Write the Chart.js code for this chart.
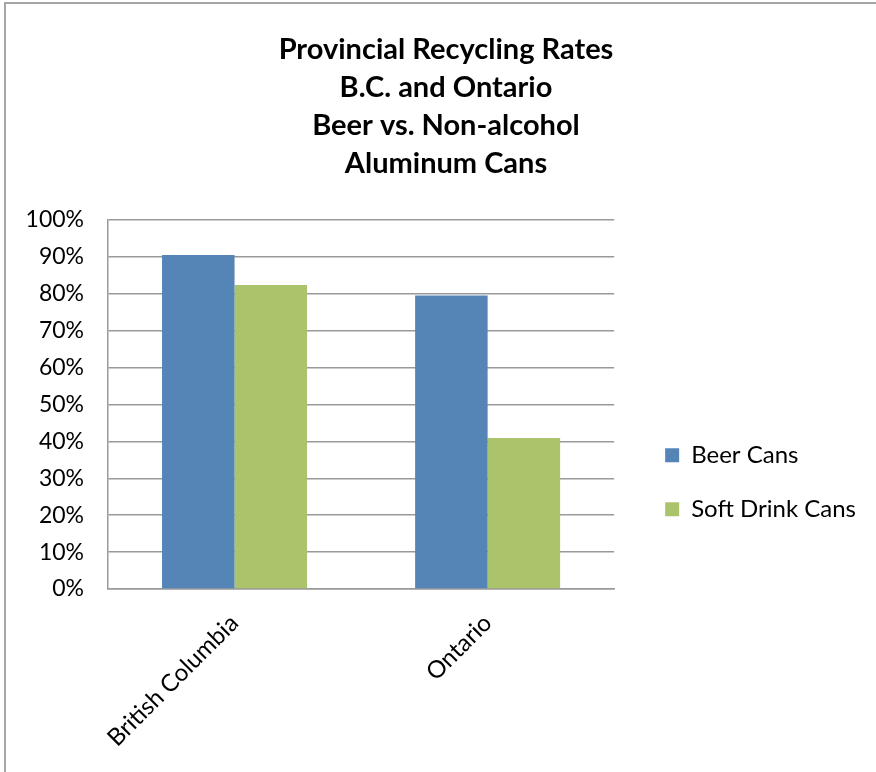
<!DOCTYPE html>
<html>
<head>
<meta charset="utf-8">
<script src="https://cdn.jsdelivr.net/npm/chart.js@4"></script>
<style>
  body { margin: 0; background: #fff; }
  #frame { position: absolute; left: 4px; top: 2px; width: 880px; height: 780px;
           border-left: 2px solid #a6a6a6; border-top: 2px solid #a6a6a6; }
  #myChart { position: absolute; left: 0; top: 0; }
</style>
</head>
<body>
<div id="frame"></div>
<canvas id="myChart" width="876" height="772"></canvas>
<script>
// chart data
const categories = ['British Columbia', 'Ontario'];
const beerCans = [90.5, 79.5];
const softDrinkCans = [82.4, 40.9];
const titleLines = ['Provincial Recycling Rates', 'B.C. and Ontario', 'Beer vs. Non-alcohol', 'Aluminum Cans'];
const yMin = 0, yMax = 100, yStep = 10;

const gridColor = '#9a9a9a';
const font = 'Lato';

var ctx = document.getElementById('myChart').getContext('2d');

var chart = new Chart(ctx, {
	type: 'bar',
	data: {
		labels: categories,
		datasets: [{
			label: 'Beer Cans',
			backgroundColor: '#5584b7',
			data: beerCans
		}, {
			label: 'Soft Drink Cans',
			backgroundColor: '#abc46c',
			data: softDrinkCans
		}]
	},
	options: {
		responsive: false,
		animation: false,
		devicePixelRatio: 1,
		categoryPercentage: 0.573,
		barPercentage: 1.0,
		layout: { padding: { left: 26, right: 10, top: 0, bottom: 0 } },
		plugins: {
			tooltip: { enabled: false },
			title: {
				display: true,
				text: titleLines,
				color: '#000',
				font: { family: font, size: 29, weight: 'bold', lineHeight: 1.31 },
				padding: { top: 31, bottom: 37 }
			},
			legend: {
				position: 'right',
				maxWidth: 240,
				// empty legend title only pushes the items down
				title: { display: true, text: ' ', font: { size: 12 }, padding: { top: 178, bottom: 0 } },
				labels: {
					color: '#000',
					boxWidth: 14,
					boxHeight: 14,
					padding: 30,
					font: { family: font, size: 24 }
				}
			}
		},
		scales: {
			x: {
				grid: { display: false },
				border: { color: gridColor, width: 1.5 },
				ticks: {
					color: '#000',
					font: { family: font, size: 24 },
					minRotation: 45,
					maxRotation: 45,
					padding: 12
				},
				afterFit: function(scale) { scale.height = 183; }
			},
			y: {
				min: yMin,
				max: yMax,
				grid: { color: gridColor, lineWidth: 1.5, drawTicks: false },
				border: { color: gridColor, width: 1.5 },
				ticks: {
					stepSize: yStep,
					color: '#000',
					padding: 24,
					font: { family: font, size: 23 },
					callback: function(v) { return v + '%'; }
				},
				afterFit: function(scale) { scale.width = 82; }
			},
			// spacer between plot and legend
			spacer: {
				axis: 'y',
				position: 'right',
				grid: { display: false },
				border: { display: false },
				ticks: { display: false },
				afterFit: function(scale) { scale.width = 21; }
			}
		}
	}
});
</script>
</body>
</html>
